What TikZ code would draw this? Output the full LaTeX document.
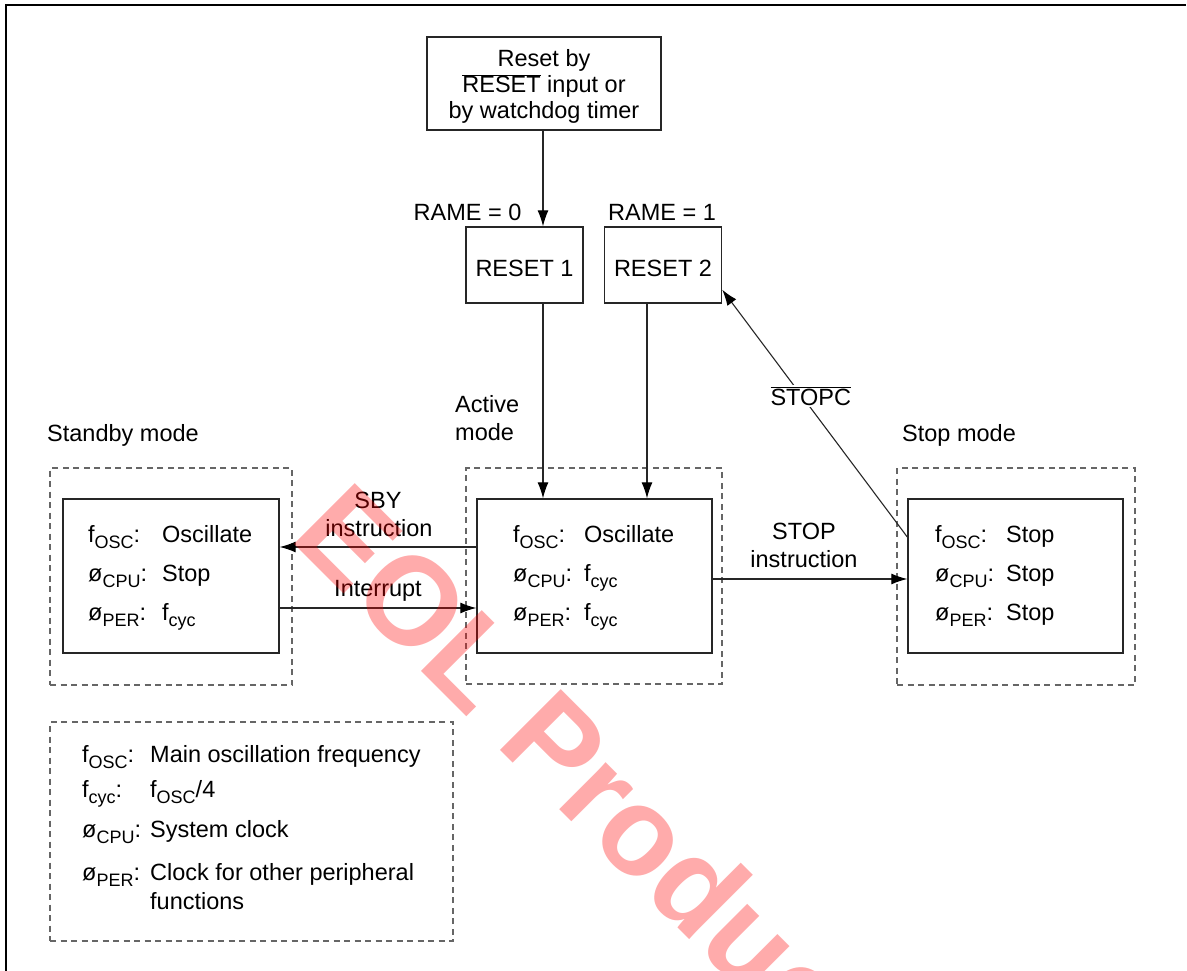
\documentclass[tikz,border=0pt]{standalone}
\usepackage{fontspec}
\setmainfont{Liberation Sans}
\usetikzlibrary{arrows.meta}
\newcommand\sbs[1]{\raisebox{-6.5pt}{\fontsize{18}{18}\selectfont #1}}
\newcommand\ovl[1]{$\overline{\hbox{#1}}$}
\begin{document}
\begin{tikzpicture}[x=1pt,y=-1pt,
  txt/.style={font=\fontsize{23.5}{26}\selectfont, inner sep=0pt, anchor=base},
  lt/.style={txt, anchor=base west},
  box/.style={draw=black!85, line width=1.4pt, inner sep=0pt},
  dbox/.style={draw=black!60, line width=1.2pt, dash pattern=on 6pt off 4.5pt, inner sep=0pt},
  conn/.style={draw=black!85, line width=1.1pt, -{Latex[length=16pt,width=11pt,color=black]}},
  frame/.style={draw=black, line width=2pt},
  wmark/.style={font=\fontsize{125}{125}\selectfont\bfseries, text=red, opacity=0.33, rotate=-45, anchor=base west, inner sep=0pt}
]
\useasboundingbox (0,0) rectangle (1187,971);
\draw[frame] (6,971) -- (6,5) -- (1186,5);

% reset source box
\node[box, minimum width=234pt, minimum height=93pt] (rst) at (544,83.5) {};
\node[txt] (rstA) at (544,67) {Reset by};
\node[txt] (rstB) at (544,93) {\ovl{RESET} input or};
\node[txt] (rstC) at (544,119) {by watchdog timer};

% reset boxes
\node[box, minimum width=117pt, minimum height=76pt] (r1) at (524.5,265) {};
\node[box, minimum width=117pt, minimum height=76pt] (r2) at (663,265) {};
\node[txt] (r1t) at (524.5,276) {RESET 1};
\node[txt] (r2t) at (663,276) {RESET 2};
\node[txt] (rame0) at (467.5,220) {RAME = 0};
\node[txt] (rame1) at (662,220) {RAME = 1};

% mode containers
\node[dbox, minimum width=242pt, minimum height=217pt] (sbyd) at (171,576.5) {};
\node[dbox, minimum width=256pt, minimum height=216pt] (actd) at (594,576) {};
\node[dbox, minimum width=238pt, minimum height=217pt] (stpd) at (1016,576.5) {};
\node[dbox, minimum width=403pt, minimum height=219pt] (lgd) at (251.5,831.5) {};

\node[box, minimum width=216pt, minimum height=154pt] (sby) at (171,576) {};
\node[box, minimum width=235pt, minimum height=154pt] (act) at (594.5,576) {};
\node[box, minimum width=215pt, minimum height=154pt] (stp) at (1015.5,576) {};

% mode titles
\node[lt] (tsby) at (47,441) {Standby mode};
\node[lt] (tstp) at (902,441) {Stop mode};
\node[lt] (tactA) at (455,412) {Active};
\node[lt] (tactB) at (455,440) {mode};

% standby contents
\node[lt] (s1l) at (88,542) {f\sbs{OSC}:};
\node[lt] (s1v) at (162,542) {Oscillate};
\node[lt] (s2l) at (88,581) {ø\sbs{CPU}:};
\node[lt] (s2v) at (162,581) {Stop};
\node[lt] (s3l) at (88,620) {ø\sbs{PER}:};
\node[lt] (s3v) at (162,620) {f\sbs{cyc}};

% active contents
\node[lt] (a1l) at (513,542) {f\sbs{OSC}:};
\node[lt] (a1v) at (584,542) {Oscillate};
\node[lt] (a2l) at (513,581) {ø\sbs{CPU}:};
\node[lt] (a2v) at (584,581) {f\sbs{cyc}};
\node[lt] (a3l) at (513,620) {ø\sbs{PER}:};
\node[lt] (a3v) at (584,620) {f\sbs{cyc}};

% stop contents
\node[lt] (p1l) at (935,542) {f\sbs{OSC}:};
\node[lt] (p1v) at (1006,542) {Stop};
\node[lt] (p2l) at (935,581) {ø\sbs{CPU}:};
\node[lt] (p2v) at (1006,581) {Stop};
\node[lt] (p3l) at (935,620) {ø\sbs{PER}:};
\node[lt] (p3v) at (1006,620) {Stop};

% legend
\node[lt] (l1l) at (82,762) {f\sbs{OSC}:};
\node[lt] (l1v) at (150,762) {Main oscillation frequency};
\node[lt] (l2l) at (82,797) {f\sbs{cyc}:};
\node[lt] (l2v) at (150,797) {f\sbs{OSC}/4};
\node[lt] (l3l) at (82,837) {ø\sbs{CPU}:};
\node[lt] (l3v) at (150,837) {System clock};
\node[lt] (l4l) at (82,880) {ø\sbs{PER}:};
\node[lt] (l4v) at (150,880) {Clock for other peripheral};
\node[lt] (l5v) at (150,909) {functions};

% connectors
\draw[conn] ([xshift=-1pt]rst.south) -- ([xshift=-1pt]rst.south |- r1.north);
\draw[conn] ([xshift=18.5pt]r1.south) -- ([xshift=18.5pt]r1.south |- act.north);
\draw[conn] ([xshift=-16pt]r2.south) -- ([xshift=-16pt]r2.south |- act.north);
\draw[conn] ([yshift=29pt]act.west) -- ([yshift=29pt]sby.east);
\draw[conn] ([yshift=-32pt]sby.east) -- ([yshift=-32pt]act.west);
\draw[conn] ([yshift=-3pt]act.east) -- ([yshift=-3pt]stp.west);
\draw[conn] ([yshift=39pt]stp.west) -- ([yshift=14pt]r2.south east)
  node[pos=0.57, xshift=9pt, fill=white, inner sep=2pt, font=\fontsize{23.5}{26}\selectfont] (stopc) {\ovl{STOPC}};

% connector labels
\node[txt] (sbyA) at (378,508) {SBY};
\node[txt] (sbyB) at (379,536) {instruction};
\node[txt] (intr) at (378,596) {Interrupt};
\node[txt] (stopA) at (804,539) {STOP};
\node[txt] (stopB) at (804,567) {instruction};

% watermark
\node[wmark] (wm) at (288,538) {EOL Product};
\end{tikzpicture}
\end{document}
